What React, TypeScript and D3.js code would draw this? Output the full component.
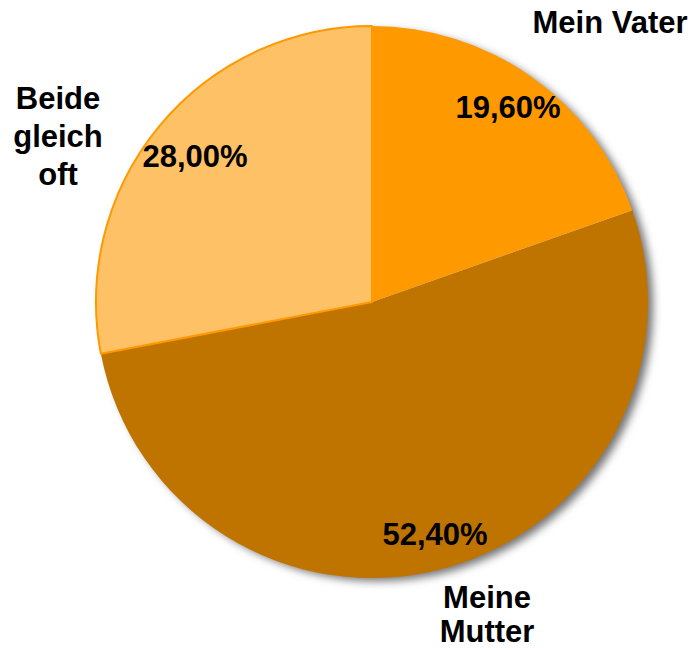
import React, { useRef, useEffect } from 'react';
import * as d3 from 'd3';

// Anteile (Prozent), im Uhrzeigersinn ab 12 Uhr
const CATEGORIES = ['Mein Vater', 'Meine Mutter', 'Beide gleich oft'];
const VALUES = [19.6, 52.4, 28.0];
const VALUE_LABELS = ['19,60%', '52,40%', '28,00%'];
const CATEGORY_LINES = [['Mein Vater'], ['Meine', 'Mutter'], ['Beide', 'gleich', 'oft']];
const COLORS = ['#FF9900', '#C07400', '#FFC166'];

const WIDTH = 694;
const HEIGHT = 650;

export default function App() {
  const ref = useRef<SVGSVGElement>(null);

  useEffect(() => {
    const svg = d3.select(ref.current);
    svg.selectAll('*').remove();

    const cx = 372;
    const cy = 302;
    const radius = 276;

    const defs = svg.append('defs');
    const filter = defs.append('filter')
      .attr('id', 'pieShadow')
      .attr('x', '-10%').attr('y', '-10%')
      .attr('width', '130%').attr('height', '130%');
    filter.append('feDropShadow')
      .attr('dx', 6).attr('dy', 4)
      .attr('stdDeviation', 4)
      .attr('flood-color', '#000')
      .attr('flood-opacity', 0.55);

    const g = svg.append('g')
      .attr('transform', `translate(${cx}, ${cy})`);

    const pie = d3.pie<number>().sort(null).value(d => d);
    const arcs = pie(VALUES);
    const arc = d3.arc<d3.PieArcDatum<number>>().innerRadius(0).outerRadius(radius);

    // Schatten unter der ganzen Torte
    g.append('circle')
      .attr('r', radius - 1)
      .attr('fill', '#fff')
      .attr('filter', 'url(#pieShadow)');

    // Segmente
    g.selectAll('path.slice')
      .data(arcs)
      .enter()
      .append('path')
      .attr('class', 'slice')
      .attr('d', arc)
      .attr('fill', (d, i) => COLORS[i])
      .attr('stroke', (d, i) => i === 2 ? '#FF9900' : 'none')
      .attr('stroke-width', 2)
      .attr('stroke-linejoin', 'round');

    const font = '"Liberation Sans", Arial, sans-serif';

    // Prozentwerte
    const valuePos: [number, number][] = [[508, 118], [435, 545], [195, 167]];
    VALUE_LABELS.forEach((label, i) => {
      svg.append('text')
        .attr('x', valuePos[i][0])
        .attr('y', valuePos[i][1])
        .attr('text-anchor', 'middle')
        .attr('font-family', font)
        .attr('font-weight', 'bold')
        .attr('font-size', 31)
        .attr('fill', '#000')
        .text(label);
    });

    // Kategorienamen
    const catPos: { x: number; ys: number[] }[] = [
      { x: 610, ys: [33] },
      { x: 487, ys: [608, 642] },
      { x: 58, ys: [109, 147, 185] },
    ];
    CATEGORY_LINES.forEach((lines, i) => {
      lines.forEach((line, j) => {
        svg.append('text')
          .attr('x', catPos[i].x)
          .attr('y', catPos[i].ys[j])
          .attr('text-anchor', 'middle')
          .attr('font-family', font)
          .attr('font-weight', 'bold')
          .attr('font-size', 31)
          .attr('fill', '#000')
          .text(line);
      });
    });
  }, []);

  return (
    <svg
      ref={ref}
      width={WIDTH}
      height={HEIGHT}
      aria-label={CATEGORIES.join(', ')}
      style={{ position: 'absolute', left: 0, top: 0 }}
    />
  );
}
